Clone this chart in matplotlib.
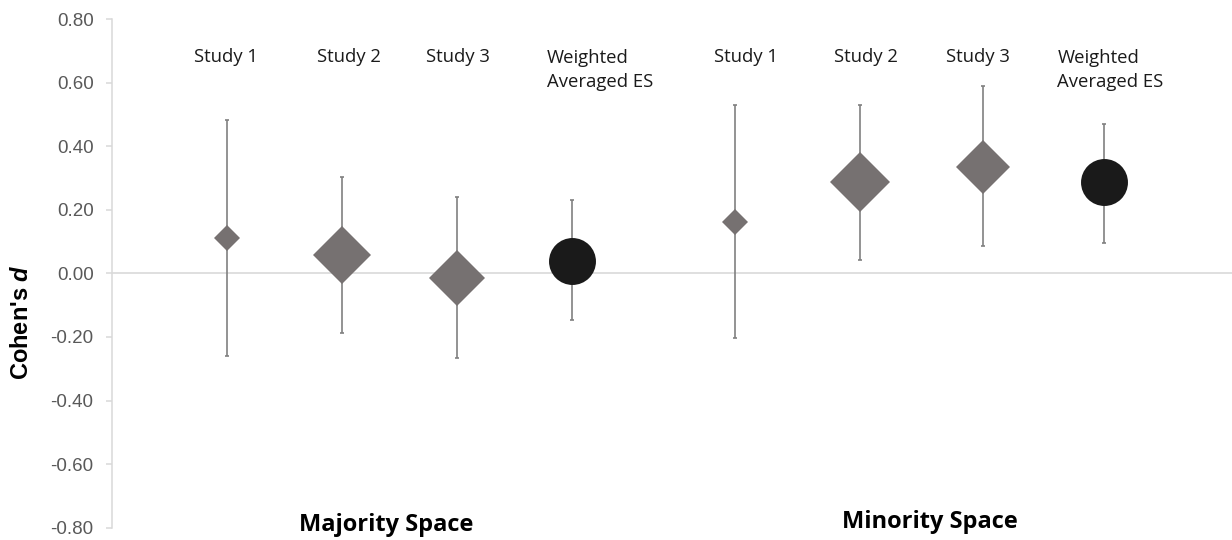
import matplotlib
matplotlib.use("Agg")
import matplotlib.pyplot as plt

# Effect sizes (Cohen's d) with 95% CI bounds
groups = ["Majority Space", "Minority Space"]
labels = ["Study 1", "Study 2", "Study 3", "Weighted\nAveraged ES"]

majority_d = [0.111, 0.058, -0.014, 0.039]
majority_lo = [-0.260, -0.188, -0.267, -0.148]
majority_hi = [0.483, 0.303, 0.240, 0.231]

minority_d = [0.163, 0.286, 0.334, 0.286]
minority_lo = [-0.202, 0.043, 0.085, 0.097]
minority_hi = [0.530, 0.530, 0.589, 0.471]

yticks = [-0.8, -0.6, -0.4, -0.2, 0.0, 0.2, 0.4, 0.6, 0.8]

# layout on a continuous x axis
maj_x = [1.0, 2.0, 3.0, 4.0]
min_x = [5.42, 6.50, 7.57, 8.63]
marker_ms = [13.7, 30, 29, 33.8]
marker_ms_min = [13.7, 30.5, 28, 33.8]
label_x_maj = [0.99, 2.06, 3.01, 3.78]
label_x_min = [5.51, 6.56, 7.53, 8.22]

W, H = 1232, 540
fig = plt.figure(figsize=(W / 100, H / 100), dpi=100)
ax = fig.add_axes([112 / W, (H - 527.7) / H, 1 - 112 / W, (527.7 - 19) / H])
ax.set_xlim(0, 1120 / 115)
ax.set_ylim(-0.8, 0.8)

grid_col = "#d9d9d9"
err_col = "#808080"
diamond_col = "#767171"
circle_col = "#1a1a1a"

ax.axhline(0, color=grid_col, lw=1.2, zorder=1)

label_font = ["Open Sans", "DejaVu Sans"]

for xs, ds, los, his, sizes, lxs in [
    (maj_x, majority_d, majority_lo, majority_hi, marker_ms, label_x_maj),
    (min_x, minority_d, minority_lo, minority_hi, marker_ms_min, label_x_min),
]:
    for i, (x, d, lo, hi, ms, lx) in enumerate(zip(xs, ds, los, his, sizes, lxs)):
        ax.errorbar([x], [d], yerr=[[d - lo], [hi - d]], fmt="none",
                    ecolor=err_col, elinewidth=1.2, capsize=1.7,
                    capthick=1.2, zorder=2)
        if i < 3:
            ax.plot([x], [d], marker="D", ms=ms, color=diamond_col,
                    mec=diamond_col, mew=0, ls="none", zorder=3)
        else:
            ax.plot([x], [d], marker="o", ms=ms, color=circle_col,
                    mec=circle_col, mew=0, ls="none", zorder=3)
        if i == 3:
            # two-line label: baseline of the last line sits one line lower
            ax.text(lx, 0.585, labels[i], ha="left", va="baseline",
                    fontsize=13.3, family=label_font, color="#1a1a1a",
                    linespacing=1.42)
        else:
            ax.text(lx, 0.664, labels[i], ha="center", va="baseline",
                    fontsize=13.3, family=label_font, color="#1a1a1a")

# group captions below the axis
fig.text(386 / W, 1 - 531 / H, groups[0], ha="center", va="baseline",
         fontsize=17, fontweight="bold", family=label_font, color="#000000")
fig.text(930 / W, 1 - 528 / H, groups[1], ha="center", va="baseline",
         fontsize=17, fontweight="bold", family=label_font, color="#000000")

# y axis styling
ax.set_yticks(yticks)
ax.set_yticklabels([f"{v:.2f}" for v in yticks])
ax.set_xticks([])
for side in ["top", "right", "bottom"]:
    ax.spines[side].set_visible(False)
ax.spines["left"].set_color(grid_col)
ax.spines["left"].set_linewidth(1.1)
ax.tick_params(axis="y", direction="out", length=4.3, width=1.1,
               color=grid_col, pad=9, labelsize=13.5, labelcolor="#595959")
for t in ax.get_yticklabels():
    t.set_family(["Liberation Sans", "DejaVu Sans"])

plt.rcParams["mathtext.fontset"] = "custom"
plt.rcParams["mathtext.bfit"] = "Liberation Sans:bold:italic"
plt.rcParams["mathtext.it"] = "Liberation Sans:italic"
fig.text(22 / W, 1 - 322 / H, r"Cohen's $\mathbfit{d}$", rotation=90,
         ha="center", va="center", fontsize=17, fontweight="bold",
         family=["Liberation Sans", "DejaVu Sans"], color="#000000")

fig.savefig("out.png", dpi=100, facecolor="white")
